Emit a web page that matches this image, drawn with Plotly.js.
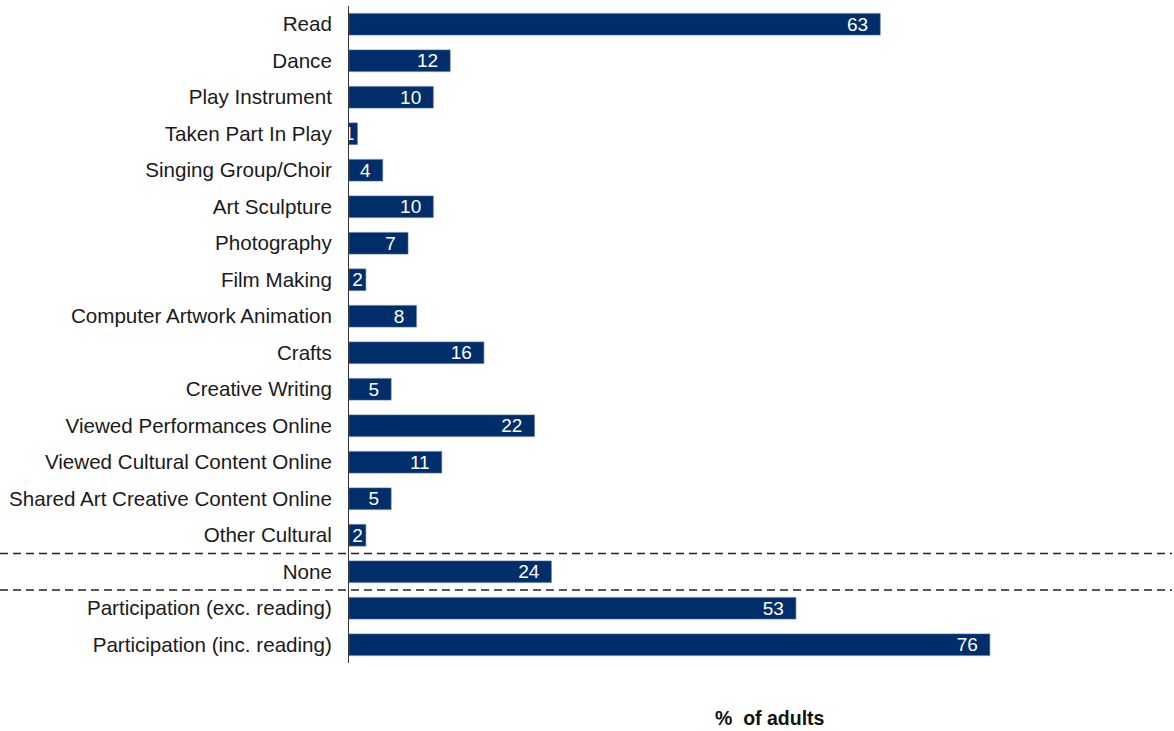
<!DOCTYPE html>
<html>
<head>
<meta charset="utf-8">
<script src="https://cdn.plot.ly/plotly-3.0.1.min.js"></script>
<style>html,body{margin:0;padding:0;background:#fff;}#chart{width:1174px;height:731px;}</style>
</head>
<body>
<div id="chart"></div>
<script>
var categories = [
  "Read", "Dance", "Play Instrument", "Taken Part In Play", "Singing Group/Choir",
  "Art Sculpture", "Photography", "Film Making", "Computer Artwork Animation", "Crafts",
  "Creative Writing", "Viewed Performances Online", "Viewed Cultural Content Online",
  "Shared Art Creative Content Online", "Other Cultural", "None",
  "Participation (exc. reading)", "Participation (inc. reading)"
];
var values = [63, 12, 10, 1, 4, 10, 7, 2, 8, 16, 5, 22, 11, 5, 2, 24, 53, 76];
var axisTitle = "%\u00A0 of adults";

var labels = values.map(function(v){ return v >= 3 ? v + "\u00A0\u2009" : String(v); });

var trace = {
  type: "bar",
  orientation: "h",
  y: categories,
  x: values,
  text: labels,
  texttemplate: "%{text}",
  textposition: "inside",
  insidetextanchor: "end",
  constraintext: "none",
  textangle: 0,
  textfont: {family: "Liberation Sans, Arial, sans-serif", size: 19, color: "#ffffff"},
  marker: {color: "#002E6B", line: {color: "#5a76a0", width: 0.6}},
  hoverinfo: "skip"
};

var W = 1174, H = 731, L = 349, R = 2, T = 6, B = 68;
var pw = W - L - R, ph = H - T - B;

var layout = {
  width: W, height: H,
  margin: {l: L, r: R, t: T, b: B, pad: 0},
  paper_bgcolor: "#ffffff",
  plot_bgcolor: "#ffffff",
  showlegend: false,
  bargap: 0.405,
  font: {family: "Liberation Sans, Arial, sans-serif", size: 20.6, color: "#1a1a1a"},
  xaxis: {
    range: [0, 97.6],
    showgrid: false, zeroline: false, showline: false,
    showticklabels: false, ticks: "", fixedrange: true
  },
  yaxis: {
    autorange: "reversed",
    type: "category",
    showgrid: false, zeroline: false,
    showline: true, linecolor: "#333333", linewidth: 1,
    ticks: "outside", ticklen: 12, tickcolor: "rgba(0,0,0,0)",
    tickfont: {family: "Liberation Sans, Arial, sans-serif", size: 20.6, color: "#1a1a1a"},
    fixedrange: true
  },
  shapes: [
    {type: "line", xref: "paper", yref: "y", x0: -L / pw, x1: 1, y0: 14.5, y1: 14.5,
     line: {color: "#222222", width: 1.5, dash: "8px,5px"}},
    {type: "line", xref: "paper", yref: "y", x0: -L / pw, x1: 1, y0: 15.5, y1: 15.5,
     line: {color: "#222222", width: 1.5, dash: "8px,5px"}}
  ],
  annotations: [
    {text: "<b>" + axisTitle + "</b>", xref: "paper", yref: "paper",
     x: (770 - L) / pw, y: -(718 - (T + ph)) / ph, xanchor: "center", yanchor: "middle",
     showarrow: false, font: {family: "Liberation Sans, Arial, sans-serif", size: 19.5, color: "#111111"}}
  ]
};

Plotly.newPlot("chart", [trace], layout, {displayModeBar: false, staticPlot: true});
</script>
</body>
</html>
